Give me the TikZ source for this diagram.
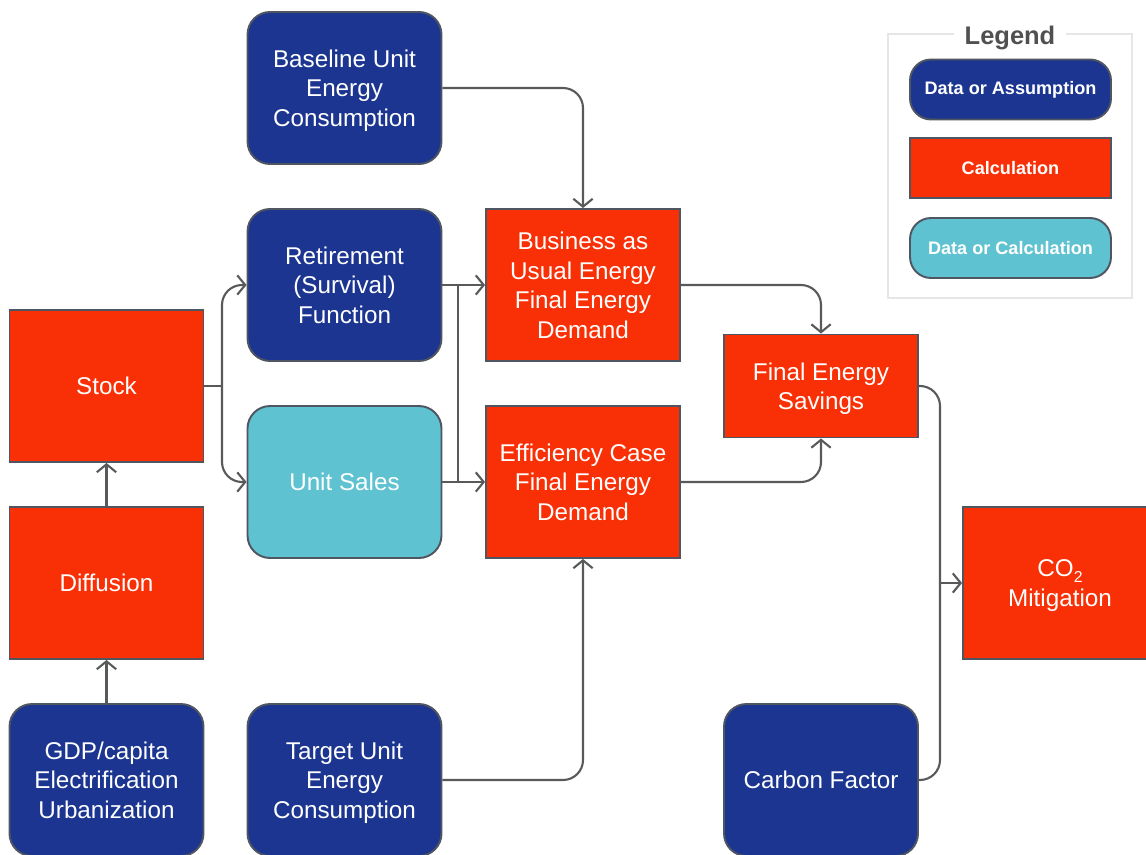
\documentclass[tikz,border=0pt]{standalone}
\usepackage{fontspec}
\setmainfont{Liberation Sans}
\usetikzlibrary{arrows.meta}

\definecolor{assumblue}{HTML}{1B3590}
\definecolor{calcred}{HTML}{F93005}
\definecolor{mixcyan}{HTML}{5EC2D0}
\definecolor{edgegrey}{HTML}{4F5561}
\definecolor{linkgrey}{HTML}{58595B}
\definecolor{legendgrey}{HTML}{505050}
\definecolor{framegrey}{HTML}{E6E6E6}

\newcommand{\lowsub}[1]{\raisebox{-0.45ex}{\fontsize{9}{9}\selectfont #1}}

\tikzset{
  box/.style={draw=edgegrey, line width=1.1pt, text=white, align=center,
    minimum width=3.88cm, minimum height=3.04cm, text depth=0pt,
    font=\fontsize{13.8}{16.8}\selectfont},
  datanode/.style={box, fill=assumblue, rounded corners=0.45cm},
  calcnode/.style={box, fill=calcred},
  mixnode/.style={box, fill=mixcyan, rounded corners=0.45cm},
  keynode/.style={draw=edgegrey, line width=1.1pt, text=white,
    minimum width=4.02cm, minimum height=1.2cm,
    font=\fontsize{10.3}{12}\selectfont\bfseries},
  link/.style={draw=linkgrey, line width=1.2pt, rounded corners=0.4cm},
  flow/.style={link, -{Straight Barb[length=4.5pt,width=11pt]}},
}

\begin{document}
\begin{tikzpicture}[x=0.02cm, y=-0.02cm]
  \useasboundingbox (0,0) rectangle (1146,855);

  % inputs and calculations
  \node[datanode] (base) at (344.5,88) {Baseline Unit\\Energy\\Consumption};
  \node[datanode] (ret) at (344.5,285) {Retirement\\(Survival)\\Function};
  \node[mixnode] (sales) at (344.5,482) {Unit Sales};
  \node[datanode] (target) at (344.5,780) {Target Unit\\Energy\\Consumption};

  \node[calcnode] (stock) at (106.5,386) {Stock};
  \node[calcnode] (diff) at (106.5,583) {Diffusion};
  \node[datanode] (gdp) at (106.5,780) {GDP/capita\\Electrification\\Urbanization};

  \node[calcnode] (bau) at (583,285) {Business as\\Usual Energy\\Final Energy\\Demand};
  \node[calcnode] (eff) at (583,482) {Efficiency Case\\Final Energy\\Demand};

  \node[calcnode, minimum height=2.06cm] (fes) at (821,386) {Final Energy\\Savings};
  \node[datanode] (carbon) at (821,780) {Carbon Factor};
  \node[calcnode] (co2) at (1060,583) {CO\lowsub{2}\\Mitigation};

  % legend
  \draw[framegrey, line width=1.1pt] (888,34) rectangle (1132,298);
  \node[fill=white, text=legendgrey, inner xsep=6pt,
    font=\fontsize{14.5}{16}\selectfont\bfseries] (legend) at (1010,38) {Legend};
  \node[keynode, fill=assumblue, rounded corners=0.42cm] (keydata) at (1010.5,89.5) {Data or Assumption};
  \node[keynode, fill=calcred] (keycalc) at (1010.5,168) {Calculation};
  \node[keynode, fill=mixcyan, rounded corners=0.42cm] (keymix) at (1010.5,248) {Data or Calculation};

  % connectors
  \coordinate (split) at (222,386);
  \coordinate (merge) at (458,0);
  \coordinate (join) at (940,583);

  \draw[flow] (gdp) -- (diff);
  \draw[flow] (diff) -- (stock);
  \draw[link] (stock.east) -- (split);
  \draw[flow] (split) |- (ret.west);
  \draw[flow] (split) |- (sales.west);

  \draw[flow] (base.east) -| (bau.north);
  \draw[flow] (ret.east) -- (bau.west);
  \draw[flow] (sales.east) -- (eff.west);
  \draw[link, sharp corners] (ret.east -| merge) -- (sales.east -| merge);
  \draw[flow] (target.east) -| (eff.south);

  \draw[flow] (bau.east) -| (fes.north);
  \draw[flow] (eff.east) -| (fes.south);

  \draw[link] (fes.east) -| (join);
  \draw[link] (carbon.east) -| (join);
  \draw[flow] (join) -- (co2.west);
\end{tikzpicture}
\end{document}
